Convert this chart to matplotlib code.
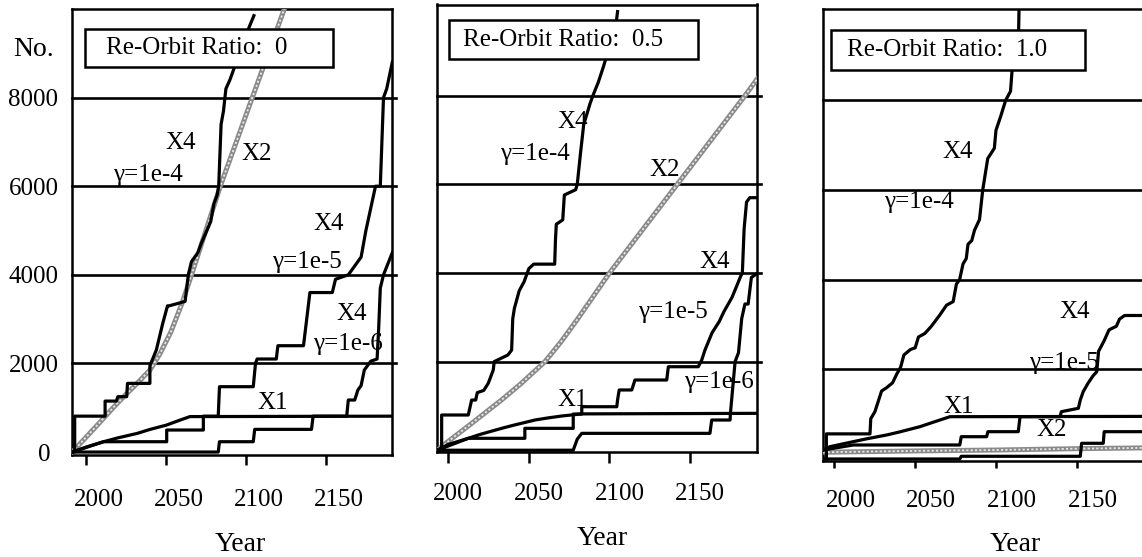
import matplotlib
matplotlib.use('Agg')
import matplotlib.pyplot as plt
from matplotlib.patches import Rectangle
from matplotlib.transforms import ScaledTranslation

plt.rcParams['font.family'] = ['Liberation Serif', 'DejaVu Serif']

# ---------------- data ----------------
ratio_text = ['Re-Orbit Ratio:  0', 'Re-Orbit Ratio:  0.5', 'Re-Orbit Ratio:  1.0']
year_ticks = [2000, 2050, 2100, 2150]
no_ticks = [0, 2000, 4000, 6000, 8000]

# re-orbit ratio 0
r0_g4_year = [1991.5, 1993, 1993, 2012, 2012, 2019, 2020, 2025.5, 2026, 2040, 2040, 2044, 2048, 2051, 2052, 2062,
              2064, 2066, 2070, 2072, 2078, 2080, 2082, 2083, 2084.5, 2086, 2087.5, 2090, 2093, 2097, 2101, 2105]
r0_g4_val = [0, 0, 810, 810, 1150, 1150, 1250, 1250, 1550, 1550, 1950, 2300, 2900, 3300, 3300, 3400,
             4000, 4300, 4500, 4700, 5200, 5600, 5800, 6000, 7400, 7700, 8200, 8400, 8700, 9100, 9500, 9850]
r0_x2_year = [1991.5, 2000, 2010, 2017, 2025, 2032, 2040, 2046, 2053, 2060, 2066, 2075, 2084, 2094, 2104, 2114,
              2124, 2128]
r0_x2_val = [0, 330, 720, 1000, 1300, 1550, 1850, 2200, 2700, 3350, 4000, 5000, 6000, 7000, 8000, 9000,
             10000, 10400]
r0_x1_year = [1991.5, 2000, 2011, 2020, 2032, 2040, 2050.5, 2058, 2065, 2195]
r0_x1_val = [0, 110, 233, 320, 420, 510, 610, 710, 800, 810]
r0_g5_year = [1991.5, 2011, 2050.5, 2050.5, 2073.4, 2073.4, 2082.7, 2083.5, 2104.6, 2106, 2107, 2119, 2120, 2136,
              2138, 2140, 2154, 2156, 2164, 2168, 2172, 2175, 2178, 2181, 2184, 2186, 2188, 2191.5]
r0_g5_val = [0, 233, 233, 497, 497, 810, 810, 1475, 1475, 2000, 2100, 2100, 2400, 2400,
             3000, 3600, 3600, 3900, 4000, 4200, 4400, 5000, 5500, 6000, 6000, 8000, 8200, 8800]
r0_g6_year = [1991.5, 2082.7, 2083.5, 2104.6, 2105.5, 2141, 2142, 2163, 2164, 2168, 2170, 2172, 2174, 2177,
              2178, 2182, 2183, 2184, 2186, 2191.5]
r0_g6_val = [0, 0, 233, 233, 512, 512, 810, 810, 1174, 1174, 1400, 1500, 1850, 2000,
             2050, 2100, 2800, 3700, 4000, 4500]

# re-orbit ratio 0.5
r05_g4_year = [1993.2, 1995.9, 1995.9, 2012.4, 2014.5, 2017, 2018, 2022, 2024.8, 2027.9, 2028.5, 2037, 2039.3,
               2040, 2041, 2044, 2047, 2050, 2053, 2066, 2066.5, 2067, 2071, 2072, 2079, 2080, 2082, 2084, 2088,
               2090, 2093, 2096, 2098, 2101, 2104, 2105]
r05_g4_val = [0, 0, 795, 795, 1133, 1133, 1300, 1350, 1510, 1810, 2000, 2150, 2260,
              2970, 3200, 3600, 3800, 4100, 4200, 4200, 4750, 5100, 5200, 5760, 5880, 6000, 6700, 7350, 7830,
              8030, 8300, 8630, 8870, 9200, 9600, 9900]
r05_x2_year = [1993.2, 2000, 2015, 2033, 2045, 2060, 2070, 2080, 2100, 2121, 2142, 2163, 2184, 2192]
r05_x2_val = [0, 200, 620, 1133, 1500, 2000, 2450, 2950, 4000, 5000, 6000, 7000, 8000, 8400]
r05_x1_year = [1993.2, 2000, 2012.4, 2020, 2033.1, 2040, 2053.8, 2062, 2070.3, 2082.8, 2195]
r05_x1_val = [0, 130, 269, 360, 494, 560, 682, 730, 772, 820, 833]
r05_g5_year = [1993.2, 2012.4, 2047.5, 2047.5, 2077.5, 2077.5, 2082.8, 2082.8, 2104.5, 2105, 2106, 2113.8, 2115.8,
               2135.5, 2136.5, 2155.1, 2157.2, 2159.2, 2163.6, 2168, 2171, 2176, 2181.4, 2182.4, 2183.5, 2185,
               2187, 2192]
r05_g5_val = [0, 269, 269, 494, 494, 817, 817, 982, 982, 1133, 1360, 1360, 1585,
              1585, 1885, 1885, 2035, 2260, 2650, 2900, 3130, 3450, 3930, 4000, 5000, 5600,
              5700, 5700]
r05_g6_year = [1993.2, 2077.5, 2080, 2082.8, 2162.3, 2163.4, 2174.8, 2175, 2177.9, 2180, 2182, 2184, 2186, 2188,
               2192]
r05_g6_val = [0, 0, 250, 381, 381, 682, 682, 833, 2000, 2200, 2970, 3300, 3300, 3900, 4000]

# re-orbit ratio 1.0
r10_g4_year = [1993.1, 1995, 1995, 2022, 2022.5, 2025, 2029.2, 2032.3, 2036, 2038.5, 2041, 2043, 2047, 2050,
               2052, 2056, 2060, 2065, 2069.4, 2073.5, 2075.5, 2077.5, 2079.6, 2081.6, 2082.7, 2085, 2086.7,
               2089.8, 2091.8, 2094.9, 2099, 2100, 2103, 2106, 2109, 2110, 2112, 2114, 2114.5]
r10_g4_val = [0, 0, 560, 560, 900, 1050, 1516, 1590, 1700, 1888, 2050, 2320, 2440, 2480,
              2720, 2800, 2960, 3200, 3430, 3510, 3900, 4000, 4350, 4470, 4790, 4870, 5100,
              5340, 6000, 6700, 6930, 7330, 7650, 8000, 8200, 8680, 9000, 9500, 10500]
r10_x2_year = [1993.1, 2050, 2100, 2150, 2198]
r10_x2_val = [150, 180, 200, 230, 250]
r10_x1_year = [1993.1, 1997.2, 2011.6, 2020, 2032.3, 2040, 2052.9, 2062, 2071.5, 2198]
r10_x1_val = [200, 274, 386, 450, 535, 600, 720, 830, 943, 950]
r10_g5_year = [1993.1, 2011.6, 2077.6, 2078.5, 2094.2, 2095, 2113.8, 2114.9, 2139.6, 2140.5, 2151, 2152.2,
               2154, 2157, 2160, 2162.4, 2163.5, 2167, 2170, 2174.5, 2176.5, 2179.6, 2198]
r10_g5_val = [200, 312, 312, 497, 497, 609, 609, 943, 943, 1055, 1130, 1316,
              1500, 1690, 1850, 1947, 2400, 2640, 2880, 2960, 3120, 3200, 3200]
r10_g6_year = [1993.1, 2077.6, 2078.5, 2152.2, 2153, 2166.4, 2167, 2198]
r10_g6_val = [0, 0, 60, 60, 350, 350, 609, 609]

# curve labels
r0_lab = ['X4', 'γ=1e-4', 'X2', 'X4', 'γ=1e-5', 'X4', 'γ=1e-6', 'X1']
r0_lab_year = [2059, 2039, 2106.5, 2151.5, 2138, 2166, 2164, 2117]
r0_lab_val = [6970, 6260, 6730, 5140, 4300, 3110, 2430, 1115]
r05_lab = ['X4', 'γ=1e-4', 'X2', 'X4', 'γ=1e-5', 'X1', 'γ=1e-6']
r05_lab_year = [2077, 2054, 2134.5, 2165, 2139.5, 2077, 2168]
r05_lab_val = [7400, 6680, 6320, 4250, 3130, 1140, 1540]
r10_lab = ['X4', 'γ=1e-4', 'X4', 'γ=1e-5', 'X1', 'X2']
r10_lab_year = [2076.5, 2052.4, 2149, 2141.8, 2077, 2134.7]
r10_lab_val = [6850, 5720, 3275, 2140, 1170, 650]

# ---------------- layout (pixels) ----------------
W, H = 1142.0, 557.0
fig = plt.figure(figsize=(W / 100, H / 100), dpi=100)

panels = [
    dict(geom=(72.3, 9, 392.3, 454.7), xlim=(1991.5, 2191.5), ylim=(-60, 10000), tlen=10, tpad=24, dx=12.5,
         year=(240, 551), box=(85, 29, 333, 67), tx=106,
         curves=[(r0_x1_year, r0_x1_val), (r0_g6_year, r0_g6_val), (r0_g5_year, r0_g5_val), (r0_g4_year, r0_g4_val)],
         x2=(r0_x2_year, r0_x2_val), labels=(r0_lab, r0_lab_year, r0_lab_val)),
    dict(geom=(437.3, 4.5, 756.7, 452), xlim=(1993.2, 2191.3), ylim=(-40, 10060), tlen=11, tpad=20, dx=10,
         year=(602, 545), box=(449, 20, 698, 59), tx=463,
         curves=[(r05_x1_year, r05_x1_val), (r05_g6_year, r05_g6_val), (r05_g5_year, r05_g5_val),
                 (r05_g4_year, r05_g4_val)],
         x2=(r05_x2_year, r05_x2_val), labels=(r05_lab, r05_lab_year, r05_lab_val)),
    dict(geom=(823.3, 9, 1153.3, 461), xlim=(1993.1, 2197.4), ylim=(-45, 10035), tlen=7, tpad=22, dx=16,
         year=(1015, 551), box=(831, 30, 1085, 70), tx=847,
         curves=[(r10_x1_year, r10_x1_val), (r10_g6_year, r10_g6_val), (r10_g5_year, r10_g5_val),
                 (r10_g4_year, r10_g4_val)],
         x2=(r10_x2_year, r10_x2_val), labels=(r10_lab, r10_lab_year, r10_lab_val)),
]


def to_axes(geom, x, y):
    left, top, right, bottom = geom
    return (x - left) / (right - left), (bottom - y) / (bottom - top)


for i, p in enumerate(panels):
    left, top, right, bottom = p['geom']
    ax = fig.add_axes([left / W, 1 - bottom / H, (right - left) / W, (bottom - top) / H])
    ax.set_xlim(*p['xlim'])
    ax.set_ylim(*p['ylim'])
    for s in ax.spines.values():
        s.set_linewidth(1.8)

    for v in no_ticks[1:]:
        ax.axhline(v, color='black', lw=1.9, xmax=1.012, clip_on=False, zorder=2)

    # X2: grey hatched-looking line
    ax.plot(p['x2'][0], p['x2'][1], color='#8a8a8a', lw=3.6, zorder=3)
    ax.plot(p['x2'][0], p['x2'][1], color='#e8e8e8', lw=1.3, ls=(0, (1.2, 1.2)), zorder=3.1)
    for yr, val in p['curves']:
        ax.plot(yr, val, color='black', lw=2.3, zorder=4)

    for t, xv, yv in zip(*p['labels']):
        ax.text(xv, yv, t, fontsize=18, ha='center', va='center', zorder=6, clip_on=True)

    # ratio box
    bx0, by0 = to_axes(p['geom'], p['box'][0], p['box'][3])
    bx1, by1 = to_axes(p['geom'], p['box'][2], p['box'][1])
    ax.add_patch(Rectangle((bx0, by0), bx1 - bx0, by1 - by0, transform=ax.transAxes,
                           fc='white', ec='black', lw=1.8, zorder=10, clip_on=False))
    tx, ty = to_axes(p['geom'], p['tx'], (p['box'][1] + p['box'][3]) / 2)
    ax.text(tx, ty, ratio_text[i], transform=ax.transAxes, fontsize=18, ha='left', va='center', zorder=11)

    ax.set_xticks(year_ticks)
    ax.tick_params(axis='x', direction='out', length=p['tlen'] * 0.72, width=1.8,
                   pad=p['tpad'] * 0.72, labelsize=18)
    for lab in ax.get_xticklabels():
        lab.set_transform(lab.get_transform() + ScaledTranslation(p['dx'] / 100, 0, fig.dpi_scale_trans))

    if i == 0:
        ax.set_yticks(no_ticks)
        ax.tick_params(axis='y', length=0, pad=10, labelsize=18)
        zero = ax.get_yticklabels()[0]
        zero.set_transform(zero.get_transform() + ScaledTranslation(-0.08, 0, fig.dpi_scale_trans))
    else:
        ax.set_yticks([])

    ax.set_xlabel('Year', fontsize=20, va='baseline')
    ax.xaxis.set_label_coords(*to_axes(p['geom'], p['year'][0], p['year'][1]))

fig.text(54 / W, 1 - 50 / H, 'No.', fontsize=20, ha='right', va='center')

fig.savefig('out.png', dpi=100)
